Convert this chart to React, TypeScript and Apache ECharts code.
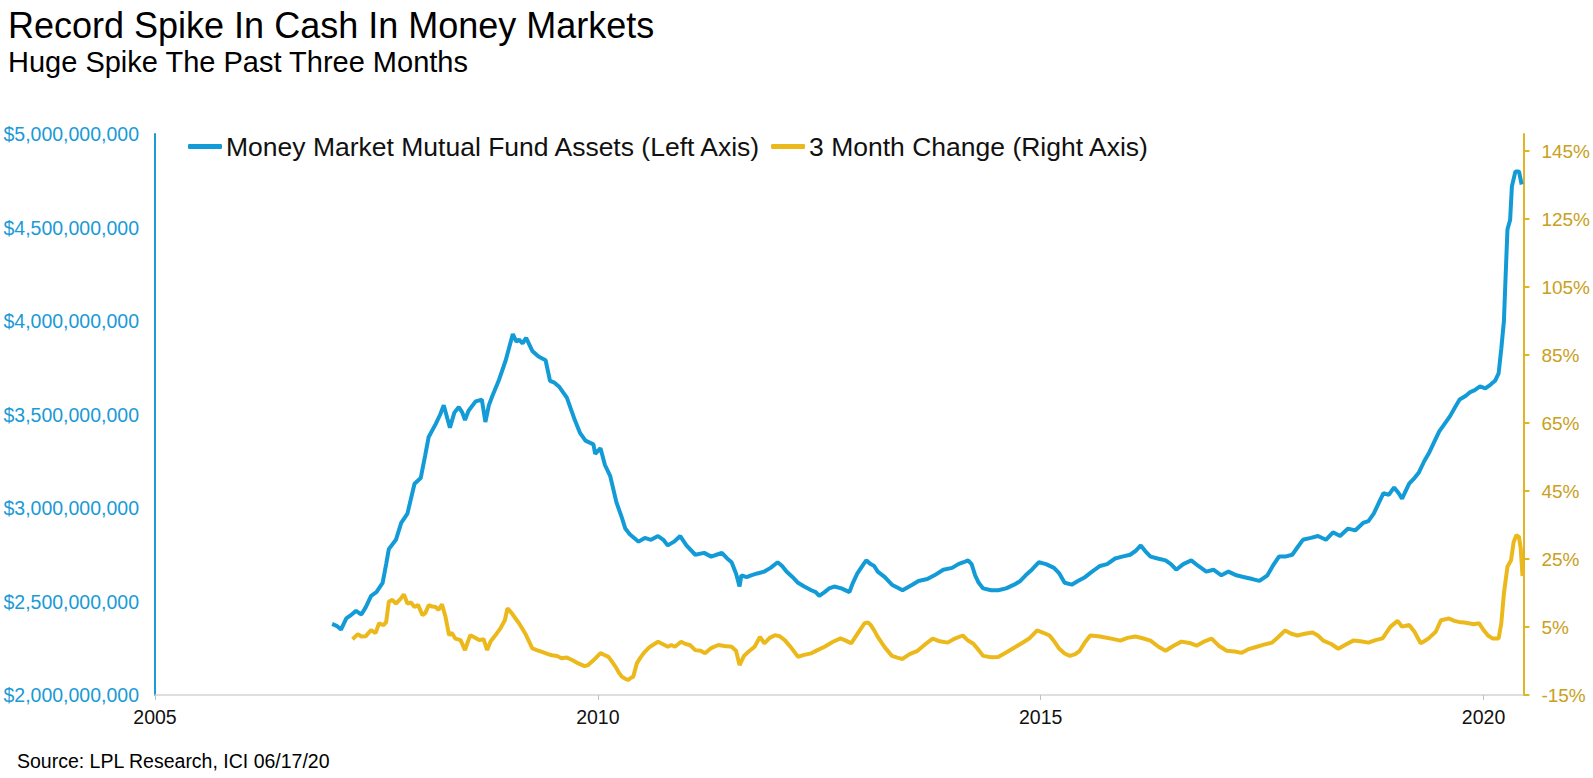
import React, { useEffect, useRef } from "react";
import * as echarts from "echarts";

// ---------- DATA ----------
const TITLE = "Record Spike In Cash In Money Markets";
const SUBTITLE = "Huge Spike The Past Three Months";
const SOURCE = "Source: LPL Research, ICI 06/17/20";
const SERIES_NAMES = ["Money Market Mutual Fund Assets (Left Axis)", "3 Month Change (Right Axis)"];

// Money market fund assets, $ billions (decimal year -> value)
const assetYears = [
  2007.0, 2007.05, 2007.1, 2007.16, 2007.22, 2007.27, 2007.33, 2007.38, 2007.44, 2007.5, 2007.57, 2007.61,
  2007.64, 2007.72, 2007.78, 2007.85, 2007.93, 2008.0, 2008.05, 2008.09, 2008.17, 2008.22, 2008.26, 2008.3,
  2008.33, 2008.38, 2008.43, 2008.47, 2008.5, 2008.54, 2008.62, 2008.69, 2008.71, 2008.73, 2008.77, 2008.81,
  2008.88, 2008.96, 2009.04, 2009.08, 2009.11, 2009.15, 2009.19, 2009.26, 2009.33, 2009.41, 2009.46, 2009.51,
  2009.56, 2009.65, 2009.74, 2009.8, 2009.86, 2009.95, 2009.97, 2010.03, 2010.08, 2010.14, 2010.21, 2010.27,
  2010.31, 2010.36, 2010.41, 2010.46, 2010.53, 2010.6, 2010.68, 2010.74, 2010.79, 2010.86, 2010.93, 2011.0,
  2011.1, 2011.2, 2011.28, 2011.34, 2011.4, 2011.46, 2011.51, 2011.56, 2011.6, 2011.62, 2011.68, 2011.73,
  2011.8, 2011.88, 2011.95, 2012.03, 2012.08, 2012.13, 2012.2, 2012.26, 2012.33, 2012.41, 2012.46, 2012.5,
  2012.56, 2012.61, 2012.67, 2012.75, 2012.84, 2012.88, 2012.93, 2013.0, 2013.03, 2013.08, 2013.12, 2013.16,
  2013.24, 2013.32, 2013.44, 2013.55, 2013.62, 2013.72, 2013.8, 2013.9, 2014.0, 2014.07, 2014.13, 2014.18,
  2014.22, 2014.26, 2014.3, 2014.35, 2014.44, 2014.52, 2014.61, 2014.7, 2014.77, 2014.83, 2014.9, 2014.98,
  2015.06, 2015.15, 2015.21, 2015.27, 2015.35, 2015.42, 2015.5, 2015.58, 2015.67, 2015.75, 2015.84, 2015.92,
  2016.01, 2016.07, 2016.13, 2016.18, 2016.24, 2016.32, 2016.41, 2016.47, 2016.53, 2016.61, 2016.7, 2016.78,
  2016.87, 2016.95, 2017.04, 2017.12, 2017.21, 2017.3, 2017.39, 2017.47, 2017.56, 2017.62, 2017.69, 2017.76,
  2017.84, 2017.9, 2017.96, 2018.05, 2018.13, 2018.22, 2018.3, 2018.38, 2018.47, 2018.55, 2018.64, 2018.7,
  2018.76, 2018.82, 2018.87, 2018.93, 2018.99, 2019.04, 2019.08, 2019.12, 2019.16, 2019.22, 2019.27, 2019.33,
  2019.39, 2019.45, 2019.5, 2019.56, 2019.62, 2019.68, 2019.73, 2019.8, 2019.85, 2019.9, 2019.96, 2020.02,
  2020.08, 2020.13, 2020.17, 2020.2, 2020.23, 2020.25, 2020.27, 2020.3, 2020.32, 2020.36, 2020.4, 2020.43,
];
const assetValues = [
  2.38, 2.37, 2.35, 2.41, 2.43, 2.45, 2.43, 2.47, 2.53, 2.55, 2.6, 2.7,
  2.78, 2.83, 2.92, 2.97, 3.13, 3.16, 3.28, 3.38, 3.45, 3.5, 3.55, 3.48,
  3.43, 3.51, 3.54, 3.51, 3.47, 3.52, 3.57, 3.58, 3.52, 3.46, 3.55, 3.6,
  3.68, 3.79, 3.93, 3.89, 3.9, 3.88, 3.91, 3.84, 3.81, 3.79, 3.68, 3.67,
  3.65, 3.59, 3.47, 3.4, 3.36, 3.34, 3.29, 3.32, 3.23, 3.17, 3.03, 2.95,
  2.89, 2.86, 2.84, 2.82, 2.84, 2.83, 2.85, 2.83, 2.8, 2.82, 2.85, 2.8,
  2.75, 2.76, 2.74, 2.75, 2.76, 2.73, 2.71, 2.65, 2.58, 2.64, 2.63, 2.64,
  2.65, 2.66, 2.68, 2.71, 2.69, 2.66, 2.63, 2.6, 2.58, 2.56, 2.55, 2.53,
  2.55, 2.57, 2.58, 2.57, 2.55, 2.6, 2.65, 2.7, 2.72, 2.7, 2.69, 2.66,
  2.63, 2.59, 2.56, 2.59, 2.61, 2.62, 2.64, 2.67, 2.68, 2.7, 2.71, 2.72,
  2.7, 2.64, 2.6, 2.57, 2.56, 2.56, 2.57, 2.59, 2.61, 2.64, 2.67, 2.71,
  2.7, 2.68, 2.65, 2.6, 2.59, 2.61, 2.63, 2.66, 2.69, 2.7, 2.73, 2.74,
  2.75, 2.77, 2.8, 2.77, 2.74, 2.73, 2.72, 2.7, 2.67, 2.7, 2.72, 2.69,
  2.66, 2.67, 2.64, 2.66, 2.64, 2.63, 2.62, 2.61, 2.64, 2.69, 2.74, 2.74,
  2.75, 2.79, 2.83, 2.84, 2.85, 2.83, 2.87, 2.85, 2.89, 2.88, 2.92, 2.93,
  2.97, 3.03, 3.08, 3.07, 3.11, 3.08, 3.05, 3.09, 3.13, 3.16, 3.19, 3.25,
  3.3, 3.36, 3.41, 3.45, 3.49, 3.54, 3.58, 3.6, 3.62, 3.63, 3.65, 3.64,
  3.66, 3.68, 3.72, 3.85, 4.0, 4.25, 4.49, 4.54, 4.72, 4.8, 4.8, 4.73,
];

// 3 month change, % (decimal year -> value)
const changeYears = [
  2007.23, 2007.29, 2007.33, 2007.38, 2007.44, 2007.49, 2007.53, 2007.58, 2007.61, 2007.64, 2007.68, 2007.72,
  2007.77, 2007.81, 2007.85, 2007.89, 2007.93, 2007.97, 2008.02, 2008.05, 2008.09, 2008.13, 2008.17, 2008.2,
  2008.24, 2008.28, 2008.32, 2008.35, 2008.39, 2008.45, 2008.5, 2008.53, 2008.56, 2008.61, 2008.66, 2008.71,
  2008.75, 2008.79, 2008.83, 2008.9, 2008.95, 2008.98, 2009.03, 2009.07, 2009.11, 2009.18, 2009.26, 2009.31,
  2009.37, 2009.43, 2009.48, 2009.54, 2009.59, 2009.65, 2009.71, 2009.78, 2009.85, 2009.89, 2009.95, 2010.03,
  2010.08, 2010.12, 2010.16, 2010.2, 2010.24, 2010.27, 2010.31, 2010.34, 2010.37, 2010.4, 2010.44, 2010.48,
  2010.53, 2010.58, 2010.62, 2010.68, 2010.73, 2010.79, 2010.83, 2010.87, 2010.94, 2010.99, 2011.04, 2011.1,
  2011.16, 2011.21, 2011.28, 2011.36, 2011.43, 2011.51, 2011.56, 2011.6, 2011.65, 2011.7, 2011.77, 2011.83,
  2011.88, 2011.94, 2012.0, 2012.05, 2012.11, 2012.18, 2012.26, 2012.33, 2012.41, 2012.48, 2012.56, 2012.65,
  2012.74, 2012.8, 2012.86, 2012.93, 2013.01, 2013.05, 2013.08, 2013.12, 2013.16, 2013.24, 2013.32, 2013.38,
  2013.44, 2013.52, 2013.61, 2013.7, 2013.78, 2013.86, 2013.95, 2014.03, 2014.12, 2014.18, 2014.24, 2014.3,
  2014.35, 2014.44, 2014.52, 2014.61, 2014.7, 2014.79, 2014.87, 2014.96, 2015.03, 2015.1, 2015.16, 2015.21,
  2015.27, 2015.33, 2015.39, 2015.44, 2015.5, 2015.56, 2015.65, 2015.73, 2015.81, 2015.9, 2015.98, 2016.07,
  2016.15, 2016.24, 2016.33, 2016.41, 2016.5, 2016.59, 2016.68, 2016.76, 2016.85, 2016.93, 2017.01, 2017.1,
  2017.19, 2017.27, 2017.35, 2017.44, 2017.52, 2017.61, 2017.68, 2017.76, 2017.83, 2017.9, 2017.98, 2018.07,
  2018.13, 2018.19, 2018.28, 2018.36, 2018.44, 2018.53, 2018.61, 2018.7, 2018.78, 2018.86, 2018.95, 2019.03,
  2019.08, 2019.16, 2019.22, 2019.29, 2019.33, 2019.38, 2019.46, 2019.52, 2019.61, 2019.67, 2019.72, 2019.78,
  2019.83, 2019.89, 2019.95, 2020.0, 2020.05, 2020.1, 2020.17, 2020.2, 2020.23, 2020.27, 2020.31, 2020.34,
  2020.37, 2020.4, 2020.42, 2020.44,
];
const changeValues = [
  1.4, 2.9, 2.2, 2.3, 4.1, 3.2, 6.1, 5.5, 6.5, 12.4, 13.0, 11.9,
  13.2, 14.6, 11.9, 12.2, 10.9, 11.5, 8.5, 9.0, 11.4, 11.0, 10.9, 10.0,
  11.7, 8.0, 2.6, 3.3, 1.6, 1.15, -1.8, 0.5, 2.6, 1.9, 1.15, 1.4,
  -1.8, 0.8, 2.1, 4.6, 7.0, 10.5, 9.0, 7.5, 6.1, 3.1, -1.3, -1.8,
  -2.3, -2.9, -3.3, -3.5, -4.2, -4.0, -4.7, -5.7, -6.5, -6.2, -4.8, -2.7,
  -3.3, -3.8, -5.2, -6.7, -8.5, -9.6, -10.2, -10.6, -10.0, -9.6, -5.7, -4.0,
  -2.3, -1.0, -0.3, 0.65, 0.0, -0.8, -0.3, -0.8, 0.65, 0.0, -0.3, -1.8,
  -2.0, -2.75, -1.2, -0.3, -0.6, -0.8, -2.0, -6.2, -3.5, -2.3, -0.8, 2.1,
  0.2, 1.8, 2.6, 2.3, 1.15, -1.0, -3.75, -3.2, -2.75, -1.8, -0.8, 0.6,
  1.65, 1.0, 0.2, 3.0, 6.1, 6.3, 5.6, 4.0, 2.1, -1.0, -3.5, -4.0,
  -4.4, -3.0, -2.0, 0.0, 1.6, 0.8, 0.4, 1.6, 2.5, 1.0, 0.1, -1.8,
  -3.5, -3.9, -3.8, -2.5, -1.1, 0.3, 1.6, 4.0, 3.3, 2.5, 0.5, -1.4,
  -2.8, -3.5, -3.0, -2.0, 0.5, 2.5, 2.3, 1.9, 1.5, 1.0, 1.8, 2.2,
  1.7, 1.0, -0.8, -2.0, -0.5, 0.7, 0.3, -0.5, 0.8, 1.6, -0.5, -2.0,
  -2.2, -2.6, -1.5, -0.8, -0.2, 0.4, 2.0, 4.0, 3.0, 2.5, 3.0, 3.4,
  2.5, 1.0, 0.0, -1.4, -0.2, 1.0, 0.8, 0.4, 1.15, 1.65, 5.1, 6.8,
  5.1, 5.6, 3.6, 0.2, 0.8, 1.65, 3.6, 7.0, 7.5, 6.8, 6.5, 6.3,
  6.1, 5.8, 6.1, 4.1, 2.5, 1.65, 1.65, 6.0, 14.9, 22.7, 24.6, 30.0,
  32.0, 31.5, 28.0, 20.0,
];

// Axes
const X_MIN = 2005;
const X_MAX = 2020.45;
const X_INTERVAL = 5;
const LEFT_MIN = 2; // $ billions
const LEFT_MAX = 5;
const LEFT_INTERVAL = 0.5;
const RIGHT_MIN = -15; // %
const RIGHT_MAX = 150;
const RIGHT_INTERVAL = 20;

// ---------- STYLE ----------
const FONT = "'Liberation Sans', Arial, Helvetica, sans-serif";
const BLUE = "#139bd7";
const BLUE_TEXT = "#1a9ad6";
const GOLD = "#ebb91c";
const GOLD_AXIS = "#e2b424";
const GOLD_TEXT = "#c9a020";

export default function App() {
  const ref = useRef<HTMLDivElement>(null);

  useEffect(() => {
    if (!ref.current) return;
    const chart = echarts.init(ref.current, undefined, { renderer: "svg" });
    const shift = -RIGHT_MIN; // right axis drawn on a 0-based scale so ticks start at -15%

    chart.setOption({
      animation: false,
      backgroundColor: "#ffffff",
      textStyle: { fontFamily: FONT },
      grid: { left: 155, right: 65, top: 134, bottom: 83, containLabel: false },
      legend: {
        data: SERIES_NAMES,
        left: 188,
        top: 133,
        padding: 0,
        itemGap: 9,
        itemWidth: 34,
        itemHeight: 5,
        icon: "roundRect",
        textStyle: { fontFamily: FONT, fontSize: 26.5, color: "#111111", padding: [0, 0, 0, -1] },
      },
      xAxis: {
        type: "value",
        min: X_MIN,
        max: X_MAX,
        interval: X_INTERVAL,
        splitLine: { show: false },
        axisLine: { show: true, lineStyle: { color: "#d4d4d4", width: 1.5 } },
        axisTick: { show: true, length: 5, lineStyle: { color: "#bfbfbf" } },
        axisLabel: {
          fontFamily: FONT,
          fontSize: 19.5,
          color: "#111111",
          margin: 12,
          showMaxLabel: false,
          formatter: (v: number) => (Math.abs(v - Math.round(v)) < 1e-6 && Math.round(v) % X_INTERVAL === 0 ? String(Math.round(v)) : ""),
        },
      },
      yAxis: [
        {
          type: "value",
          position: "left",
          min: LEFT_MIN,
          max: LEFT_MAX,
          interval: LEFT_INTERVAL,
          splitLine: { show: false },
          axisLine: { show: true, lineStyle: { color: BLUE_TEXT, width: 2 } },
          axisTick: { show: false },
          axisLabel: {
            fontFamily: FONT,
            fontSize: 19.5,
            color: BLUE_TEXT,
            margin: 16,
            formatter: (v: number) => "$" + Math.round(v * 1e9).toLocaleString("en-US"),
          },
        },
        {
          type: "value",
          position: "right",
          min: RIGHT_MIN + shift,
          max: RIGHT_MAX + shift,
          interval: RIGHT_INTERVAL,
          splitLine: { show: false },
          axisLine: { show: true, lineStyle: { color: GOLD_AXIS, width: 2 } },
          axisTick: { show: true, length: 6, lineStyle: { color: GOLD_AXIS, width: 2 } },
          axisLabel: {
            fontFamily: FONT,
            fontSize: 19,
            color: GOLD_TEXT,
            margin: 18,
            showMaxLabel: false,
            formatter: (v: number) => (Math.round(v) % RIGHT_INTERVAL === 0 ? `${Math.round(v - shift)}%` : ""),
          },
        },
      ],
      series: [
        {
          name: SERIES_NAMES[0],
          type: "line",
          yAxisIndex: 0,
          showSymbol: false,
          symbol: "none",
          lineStyle: { color: BLUE, width: 4 },
          itemStyle: { color: BLUE },
          data: assetYears.map((y, i) => [y, assetValues[i]]),
        },
        {
          name: SERIES_NAMES[1],
          type: "line",
          yAxisIndex: 1,
          showSymbol: false,
          symbol: "none",
          lineStyle: { color: GOLD, width: 4 },
          itemStyle: { color: GOLD },
          data: changeYears.map((y, i) => [y, changeValues[i] + shift]),
        },
      ],
      graphic: [
        {
          type: "text",
          left: 8,
          top: 7,
          style: { text: TITLE, font: `36px ${FONT}`, fill: "#000000" },
        },
        {
          type: "text",
          left: 8,
          top: 47,
          style: { text: SUBTITLE, font: `29px ${FONT}`, fill: "#000000" },
        },
        {
          type: "text",
          left: 17,
          top: 751,
          style: { text: SOURCE, font: `19.5px ${FONT}`, fill: "#000000" },
        },
      ],
    });

    return () => chart.dispose();
  }, []);

  return (
    <div
      ref={ref}
      style={{ position: "absolute", left: 0, top: 0, width: 1593, height: 778, background: "#fff" }}
    />
  );
}
